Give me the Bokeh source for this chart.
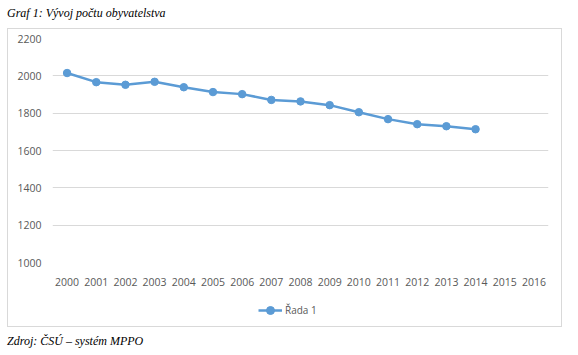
from bokeh.plotting import figure
from bokeh.models import (FactorRange, Range1d, Legend, LegendItem, ColumnDataSource, Div,
                          InlineStyleSheet)
from bokeh.layouts import column
from bokeh.embed import file_html
from bokeh.resources import INLINE

years = [str(y) for y in range(2000, 2017)]
data_years = [str(y) for y in range(2000, 2015)]
population = [2015, 1966, 1952, 1968, 1939, 1913, 1902, 1871, 1863, 1843, 1805, 1768, 1741, 1730, 1714]
y_ticks = [1000, 1200, 1400, 1600, 1800, 2000, 2200]
series_name = "Řada 1"
title_text = "Graf 1: Vývoj počtu obyvatelstva"
source_text = "Zdroj: ČSÚ – systém MPPO"

COLOR = "#5b9bd5"
GRID = "#d9d9d9"
LABEL = "#595959"
FONT = "Open Sans"

SERIF = ("font-family:'Liberation Serif';font-style:italic;font-size:12px;"
         "color:black;line-height:14px;white-space:nowrap;")

title_div = Div(text=f'<div style="{SERIF}padding:6px 0 0 7px;margin:0">{title_text}</div>',
                width=578, height=28, margin=(0, 0, 0, 0))
footer_div = Div(text=f'<div style="{SERIF}padding:7px 0 0 7px;margin:0">{source_text}</div>',
                 width=578, height=28, margin=(0, 0, 0, 0))

src = ColumnDataSource(dict(x=data_years, y=population))

# main chart
p = figure(width=555, height=265, x_range=FactorRange(*years, range_padding=0),
           y_range=Range1d(1000, 2200), output_backend="svg", toolbar_location=None,
           min_border_left=45, min_border_right=14, min_border_top=10, min_border_bottom=31,
           margin=(0, 0, 0, 0))
p.outline_line_color = None
p.background_fill_color = None
p.border_fill_color = None

p.line("x", "y", source=src, line_color=COLOR, line_width=2.5)
p.scatter("x", "y", source=src, size=7.5, fill_color=COLOR, line_color=COLOR)

p.xgrid.grid_line_color = None
p.ygrid.grid_line_color = GRID
p.ygrid.grid_line_width = 1
p.yaxis.ticker = y_ticks

for ax in (p.xaxis[0], p.yaxis[0]):
    ax.axis_line_color = None
    ax.major_tick_line_color = None
    ax.minor_tick_line_color = None
    ax.major_label_text_font = FONT
    ax.major_label_text_font_size = "10.5px"
    ax.major_label_text_color = LABEL
p.yaxis.major_label_standoff = 5
p.xaxis.major_label_standoff = 9

# legend strip (same series, drawn outside its own visible y range so only the legend shows)
lf = figure(width=555, height=34, x_range=FactorRange(*years, range_padding=0),
            y_range=Range1d(0, 1), output_backend="svg", toolbar_location=None,
            x_axis_location=None, y_axis_location=None,
            min_border_left=0, min_border_right=0, min_border_top=0, min_border_bottom=0,
            margin=(0, 0, 0, 0))
lf.outline_line_color = None
lf.background_fill_color = None
lf.border_fill_color = None
lf.grid.visible = False
l_ln = lf.line("x", "y", source=src, line_color=COLOR, line_width=2.5)
l_sc = lf.scatter("x", "y", source=src, size=7.5, fill_color=COLOR, line_color=COLOR)
legend = Legend(items=[LegendItem(label=series_name, renderers=[l_ln, l_sc])],
                orientation="horizontal", location="left",
                border_line_color=None, background_fill_alpha=0,
                label_text_font=FONT, label_text_font_size="10px",
                label_text_color=LABEL, glyph_width=24, label_standoff=3,
                padding=2, margin=206)
lf.add_layout(legend)

box_css = InlineStyleSheet(css=":host { outline: 1px solid #d9d9d9; outline-offset: -1px; }")
box = column(p, lf, spacing=0, margin=(0, 0, 0, 7), stylesheets=[box_css])

layout = column(title_div, box, footer_div, spacing=0)

open("out.html", "w").write(file_html(layout, INLINE))
